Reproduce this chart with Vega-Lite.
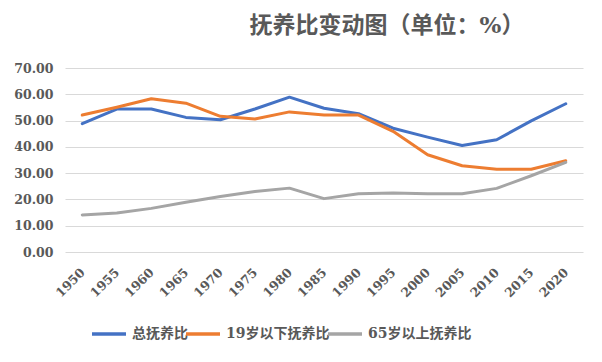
{
  "$schema": "https://vega.github.io/schema/vega-lite/v6.json",
  "width": 518,
  "height": 184,
  "autosize": {"type": "none"},
  "padding": {"left": 65, "top": 68, "right": 19, "bottom": 110},
  "background": "white",
  "title": {
    "text": "抚养比变动图（单位：%）",
    "font": "DejaVu Serif, Noto Sans CJK SC",
    "fontSize": 23,
    "fontWeight": "bold",
    "color": "#595959",
    "anchor": "middle",
    "frame": "group",
    "dx": 63,
    "offset": 24
  },
  "data": {
    "values": [
      {"year": "1950", "series": "总抚养比", "value": 48.8},
      {"year": "1955", "series": "总抚养比", "value": 54.4},
      {"year": "1960", "series": "总抚养比", "value": 54.4},
      {"year": "1965", "series": "总抚养比", "value": 51.2},
      {"year": "1970", "series": "总抚养比", "value": 50.3},
      {"year": "1975", "series": "总抚养比", "value": 54.4},
      {"year": "1980", "series": "总抚养比", "value": 58.9},
      {"year": "1985", "series": "总抚养比", "value": 54.7},
      {"year": "1990", "series": "总抚养比", "value": 52.6},
      {"year": "1995", "series": "总抚养比", "value": 47.1},
      {"year": "2000", "series": "总抚养比", "value": 43.7},
      {"year": "2005", "series": "总抚养比", "value": 40.5},
      {"year": "2010", "series": "总抚养比", "value": 42.7},
      {"year": "2015", "series": "总抚养比", "value": 49.9},
      {"year": "2020", "series": "总抚养比", "value": 56.4},
      {"year": "1950", "series": "19岁以下抚养比", "value": 52.1},
      {"year": "1955", "series": "19岁以下抚养比", "value": 55.1},
      {"year": "1960", "series": "19岁以下抚养比", "value": 58.3},
      {"year": "1965", "series": "19岁以下抚养比", "value": 56.6},
      {"year": "1970", "series": "19岁以下抚养比", "value": 51.6},
      {"year": "1975", "series": "19岁以下抚养比", "value": 50.6},
      {"year": "1980", "series": "19岁以下抚养比", "value": 53.3},
      {"year": "1985", "series": "19岁以下抚养比", "value": 52.1},
      {"year": "1990", "series": "19岁以下抚养比", "value": 52.1},
      {"year": "1995", "series": "19岁以下抚养比", "value": 45.9},
      {"year": "2000", "series": "19岁以下抚养比", "value": 37.0},
      {"year": "2005", "series": "19岁以下抚养比", "value": 32.8},
      {"year": "2010", "series": "19岁以下抚养比", "value": 31.5},
      {"year": "2015", "series": "19岁以下抚养比", "value": 31.5},
      {"year": "2020", "series": "19岁以下抚养比", "value": 34.7},
      {"year": "1950", "series": "65岁以上抚养比", "value": 14.1},
      {"year": "1955", "series": "65岁以上抚养比", "value": 14.8},
      {"year": "1960", "series": "65岁以上抚养比", "value": 16.6},
      {"year": "1965", "series": "65岁以上抚养比", "value": 18.9},
      {"year": "1970", "series": "65岁以上抚养比", "value": 21.1},
      {"year": "1975", "series": "65岁以上抚养比", "value": 23.0},
      {"year": "1980", "series": "65岁以上抚养比", "value": 24.3},
      {"year": "1985", "series": "65岁以上抚养比", "value": 20.3},
      {"year": "1990", "series": "65岁以上抚养比", "value": 22.2},
      {"year": "1995", "series": "65岁以上抚养比", "value": 22.4},
      {"year": "2000", "series": "65岁以上抚养比", "value": 22.2},
      {"year": "2005", "series": "65岁以上抚养比", "value": 22.2},
      {"year": "2010", "series": "65岁以上抚养比", "value": 24.2},
      {"year": "2015", "series": "65岁以上抚养比", "value": 29.0},
      {"year": "2020", "series": "65岁以上抚养比", "value": 34.1}
    ]
  },
  "mark": {"type": "line", "strokeWidth": 3, "strokeCap": "round", "strokeJoin": "round"},
  "encoding": {
    "x": {
      "field": "year",
      "type": "ordinal",
      "scale": {"type": "point", "padding": 0.5},
      "axis": {
        "title": null,
        "labelAngle": -45,
        "labelAlign": "right",
        "labelBaseline": "middle",
        "labelPadding": 18,
        "labelFont": "DejaVu Serif",
        "labelFontSize": 12.5,
        "labelFontWeight": "bold",
        "labelColor": "#595959",
        "ticks": false,
        "domain": false,
        "grid": false
      }
    },
    "y": {
      "field": "value",
      "type": "quantitative",
      "scale": {"domain": [0, 70], "nice": false},
      "axis": {
        "title": null,
        "values": [0, 10, 20, 30, 40, 50, 60, 70],
        "format": ".2f",
        "labelPadding": 12,
        "labelFont": "DejaVu Serif",
        "labelFontSize": 12.5,
        "labelFontWeight": "bold",
        "labelColor": "#595959",
        "ticks": false,
        "domain": false,
        "grid": true,
        "gridColor": "#d9d9d9",
        "gridWidth": 1
      }
    },
    "color": {
      "field": "series",
      "type": "nominal",
      "sort": ["总抚养比", "19岁以下抚养比", "65岁以上抚养比"],
      "scale": {
        "domain": ["总抚养比", "19岁以下抚养比", "65岁以上抚养比"],
        "range": ["#4472C4", "#ED7D31", "#A5A5A5"]
      },
      "legend": {
        "title": null,
        "orient": "none",
        "direction": "horizontal",
        "gridAlign": "none",
        "legendX": 25,
        "legendY": 247,
        "padding": 0,
        "symbolType": "stroke",
        "symbolSize": 1156,
        "symbolStrokeWidth": 3.5,
        "labelFont": "DejaVu Serif, Noto Sans CJK SC",
        "labelFontSize": 14,
        "labelFontWeight": "bold",
        "labelColor": "#595959",
        "labelOffset": 4,
        "columnPadding": -9,
        "labelLimit": 200
      }
    }
  },
  "config": {"view": {"stroke": null}}
}
